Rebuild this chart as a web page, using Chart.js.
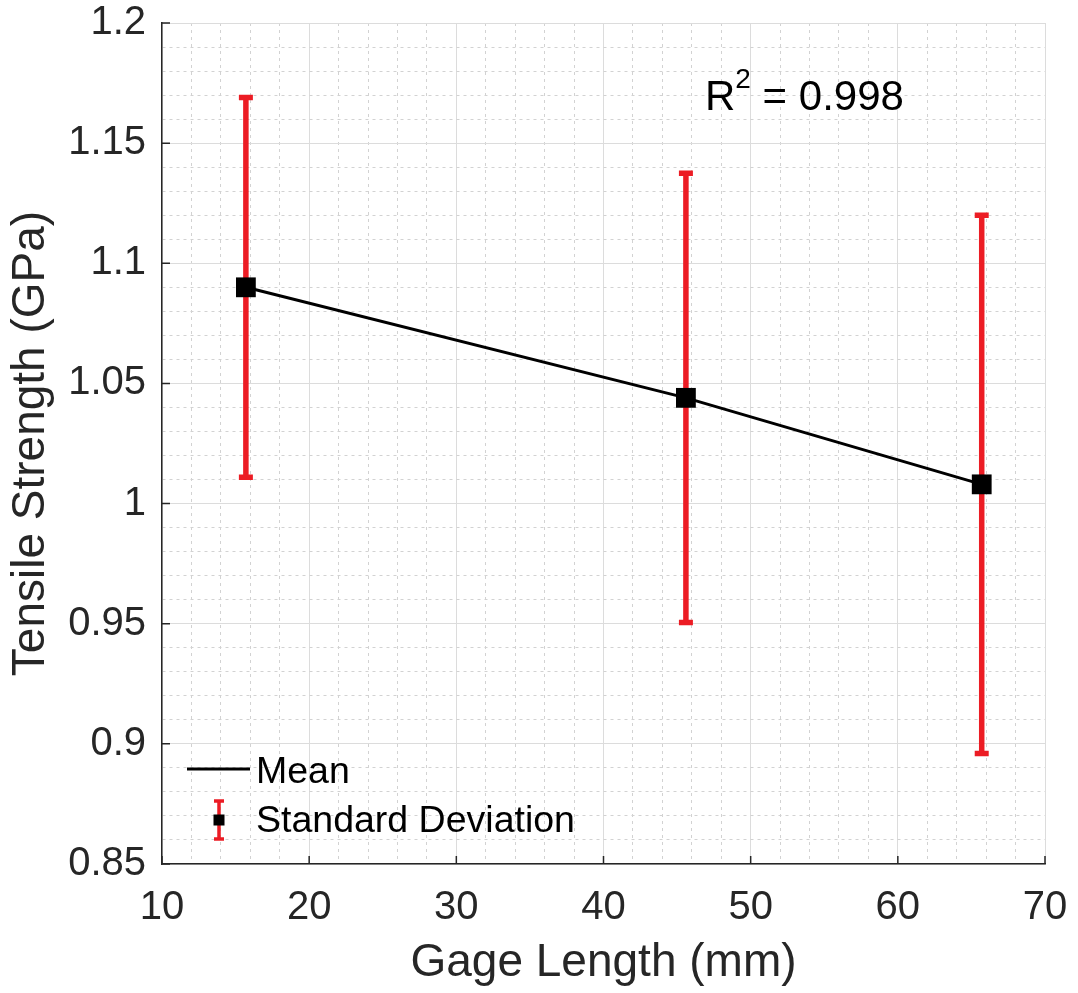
<!DOCTYPE html>
<html>
<head>
<meta charset="utf-8">
<title>Tensile Strength vs Gage Length</title>
<script src="https://cdn.jsdelivr.net/npm/chart.js@4.4.1/dist/chart.umd.min.js"></script>
<style>
  html, body { margin: 0; padding: 0; background: #fff; }
  #wrap { width: 1078px; height: 993px; }
</style>
</head>
<body>
<div id="wrap"><canvas id="chart"></canvas></div>
<script>
const gageLengths = [15.7, 45.6, 65.7];
const meanStrength = [1.090, 1.044, 1.008];
const stdDeviation = [0.079, 0.0935, 0.112];

const xRange = [10, 70];
const yRange = [0.85, 1.2];
const xSteps = { major: 10, minor: 2 };
const ySteps = { major: 0.05, minor: 0.01 };

const legendLabels = ['Mean', 'Standard Deviation'];
const rSquared = '0.998';

const TEXT = '#262626';
const RED = '#ec1c24';
const MAJOR_GRID = '#dcdcdc';
const MINOR_GRID = '#d2d2d2';
const FONT = "'Liberation Sans', Arial, Helvetica, sans-serif";

const isMajor = (v, step) => Math.abs(v / step - Math.round(v / step)) < 1e-6;
const fmt = (v) => String(Math.round(v * 100) / 100);

Chart.defaults.font.family = FONT;
Chart.defaults.color = TEXT;

const errorBars = {
  id: 'errorBars',
  beforeDatasetsDraw(chart) {
    const { ctx, scales: { x, y } } = chart;
    ctx.save();
    ctx.strokeStyle = RED;
    ctx.lineWidth = 5.5;
    gageLengths.forEach((g, i) => {
      const px = x.getPixelForValue(g);
      const top = y.getPixelForValue(meanStrength[i] + stdDeviation[i]);
      const bottom = y.getPixelForValue(meanStrength[i] - stdDeviation[i]);
      ctx.beginPath();
      ctx.moveTo(px, top);
      ctx.lineTo(px, bottom);
      ctx.moveTo(px - 7, top);
      ctx.lineTo(px + 7, top);
      ctx.moveTo(px - 7, bottom);
      ctx.lineTo(px + 7, bottom);
      ctx.stroke();
    });
    ctx.restore();
  },
};

const extras = {
  id: 'extras',
  afterDraw(chart) {
    const { ctx, chartArea: area, scales: { x, y } } = chart;
    ctx.save();

    // inward tick marks (MATLAB style)
    ctx.strokeStyle = TEXT;
    ctx.lineWidth = 1.5;
    ctx.beginPath();
    x.ticks.forEach((t) => {
      if (!isMajor(t.value, xSteps.major)) return;
      const px = x.getPixelForValue(t.value);
      ctx.moveTo(px, area.bottom);
      ctx.lineTo(px, area.bottom - 8);
    });
    y.ticks.forEach((t) => {
      if (!isMajor(t.value, ySteps.major)) return;
      const py = y.getPixelForValue(t.value);
      ctx.moveTo(area.left, py);
      ctx.lineTo(area.left + 8, py);
    });
    ctx.stroke();

    // legend
    ctx.fillStyle = '#000';
    ctx.font = `37.5px ${FONT}`;
    ctx.textBaseline = 'middle';
    ctx.textAlign = 'left';

    ctx.strokeStyle = '#000';
    ctx.lineWidth = 3;
    ctx.beginPath();
    ctx.moveTo(area.left + 25, area.bottom - 95);
    ctx.lineTo(area.left + 88, area.bottom - 95);
    ctx.stroke();
    ctx.fillText(legendLabels[0], area.left + 94, area.bottom - 91);

    const ix = area.left + 57;
    const iy = area.bottom - 44;
    ctx.strokeStyle = RED;
    ctx.lineWidth = 3.5;
    ctx.beginPath();
    ctx.moveTo(ix, iy - 19);
    ctx.lineTo(ix, iy + 19);
    ctx.moveTo(ix - 5, iy - 19);
    ctx.lineTo(ix + 5, iy - 19);
    ctx.moveTo(ix - 5, iy + 19);
    ctx.lineTo(ix + 5, iy + 19);
    ctx.stroke();
    ctx.fillRect(ix - 5.5, iy - 5.5, 11, 11);
    ctx.fillText(legendLabels[1], area.left + 94, area.bottom - 42);

    // R^2 annotation
    ctx.textBaseline = 'alphabetic';
    const rx = area.left + 543;
    const ry = area.top + 87;
    ctx.font = `42px ${FONT}`;
    ctx.fillText('R', rx, ry);
    const rw = ctx.measureText('R').width;
    ctx.font = `28px ${FONT}`;
    ctx.fillText('2', rx + rw, ry - 22);
    const sw = ctx.measureText('2').width;
    ctx.font = `42px ${FONT}`;
    ctx.fillText(` = ${rSquared}`, rx + rw + sw, ry);

    ctx.restore();
  },
};

const gridFor = (steps) => ({
  color: (c) => (c.tick && isMajor(c.tick.value, steps.major) ? MAJOR_GRID : MINOR_GRID),
  lineWidth: 1,
  drawTicks: false,
});

const borderFor = (steps) => ({
  color: TEXT,
  width: 1.5,
  dash: (c) => (c.tick && !isMajor(c.tick.value, steps.major) ? [3, 4] : []),
});

new Chart(document.getElementById('chart'), {
  type: 'line',
  data: {
    datasets: [
      {
        label: legendLabels[0],
        data: gageLengths.map((g, i) => ({ x: g, y: meanStrength[i] })),
        borderColor: '#000',
        borderWidth: 3,
        backgroundColor: '#000',
        pointStyle: 'rect',
        pointRadius: 14,
        pointBorderWidth: 0,
        pointBackgroundColor: '#000',
        tension: 0,
      },
    ],
  },
  options: {
    responsive: true,
    maintainAspectRatio: false,
    animation: false,
    events: [],
    layout: { padding: { top: 23, right: 33, left: 0, bottom: 0 } },
    plugins: {
      legend: { display: false },
      tooltip: { enabled: false },
    },
    scales: {
      x: {
        type: 'linear',
        min: xRange[0],
        max: xRange[1],
        afterFit: (s) => {
          s.height = 129;
          s.paddingLeft = 0;
          s.paddingRight = 0;
        },
        grid: gridFor(xSteps),
        border: borderFor(xSteps),
        ticks: {
          stepSize: xSteps.minor,
          autoSkip: false,
          maxRotation: 0,
          minRotation: 0,
          padding: 20,
          color: TEXT,
          font: { size: 40 },
          callback: (v) => (isMajor(v, xSteps.major) ? fmt(v) : ''),
        },
        title: {
          display: true,
          text: 'Gage Length (mm)',
          color: TEXT,
          font: { size: 46 },
          padding: { top: 0, bottom: 2 },
        },
      },
      y: {
        type: 'linear',
        min: yRange[0],
        max: yRange[1],
        afterFit: (s) => {
          s.width = 162;
          s.paddingTop = 0;
          s.paddingBottom = 0;
        },
        grid: gridFor(ySteps),
        border: borderFor(ySteps),
        ticks: {
          stepSize: ySteps.minor,
          autoSkip: false,
          padding: 16,
          color: TEXT,
          font: { size: 40 },
          callback: (v) => (isMajor(v, ySteps.major) ? fmt(v) : ''),
        },
        title: {
          display: true,
          text: 'Tensile Strength (GPa)',
          color: TEXT,
          font: { size: 46 },
          padding: { top: 4, bottom: 0 },
        },
      },
    },
  },
  plugins: [errorBars, extras],
});
</script>
</body>
</html>
